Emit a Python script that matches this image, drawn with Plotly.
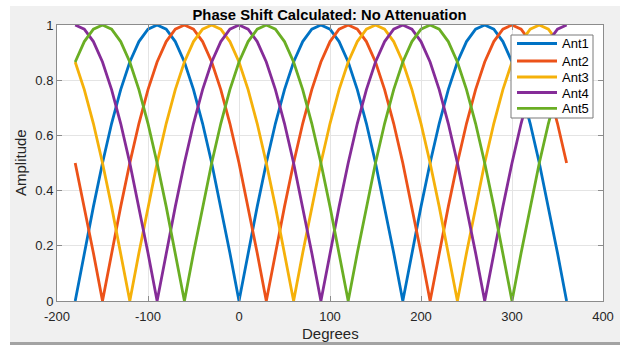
import plotly.graph_objects as go

degrees = list(range(-180, 361, 10))

ant1 = [0, .174, .342, .5, .643, .766, .866, .94, .985, 1, .985, .94, .866, .766, .643, .5, .342, .174,
        0, .174, .342, .5, .643, .766, .866, .94, .985, 1, .985, .94, .866, .766, .643, .5, .342, .174,
        0, .174, .342, .5, .643, .766, .866, .94, .985, 1, .985, .94, .866, .766, .643, .5, .342, .174,
        0]
ant2 = [.5, .342, .174, 0, .174, .342, .5, .643, .766, .866, .94, .985, 1, .985, .94, .866, .766, .643,
        .5, .342, .174, 0, .174, .342, .5, .643, .766, .866, .94, .985, 1, .985, .94, .866, .766, .643,
        .5, .342, .174, 0, .174, .342, .5, .643, .766, .866, .94, .985, 1, .985, .94, .866, .766, .643,
        .5]
ant3 = [.866, .766, .643, .5, .342, .174, 0, .174, .342, .5, .643, .766, .866, .94, .985, 1, .985, .94,
        .866, .766, .643, .5, .342, .174, 0, .174, .342, .5, .643, .766, .866, .94, .985, 1, .985, .94,
        .866, .766, .643, .5, .342, .174, 0, .174, .342, .5, .643, .766, .866, .94, .985, 1, .985, .94,
        .866]
ant4 = [1, .985, .94, .866, .766, .643, .5, .342, .174, 0, .174, .342, .5, .643, .766, .866, .94, .985,
        1, .985, .94, .866, .766, .643, .5, .342, .174, 0, .174, .342, .5, .643, .766, .866, .94, .985,
        1, .985, .94, .866, .766, .643, .5, .342, .174, 0, .174, .342, .5, .643, .766, .866, .94, .985,
        1]
ant5 = [.866, .94, .985, 1, .985, .94, .866, .766, .643, .5, .342, .174, 0, .174, .342, .5, .643, .766,
        .866, .94, .985, 1, .985, .94, .866, .766, .643, .5, .342, .174, 0, .174, .342, .5, .643, .766,
        .866, .94, .985, 1, .985, .94, .866, .766, .643, .5, .342, .174, 0, .174, .342, .5, .643, .766,
        .866]

names = ["Ant1", "Ant2", "Ant3", "Ant4", "Ant5"]
series = [ant1, ant2, ant3, ant4, ant5]
colors = ["#0072c4", "#ec5219", "#f5b10a", "#852c98", "#6aae24"]

x_ticks = [-200, -100, 0, 100, 200, 300, 400]
x_labels = ["-200", "-100", "0", "100", "200", "300", "400"]
y_ticks = [0, 0.2, 0.4, 0.6, 0.8, 1]
y_labels = ["0", "0.2", "0.4", "0.6", "0.8", "1"]

W, H = 620, 345
L, R, T, B = 57, 17, 25, 44
pw, ph = W - L - R, H - T - B


def px_x(p):
    return (p - L) / pw


def px_y(p):
    return (H - B - p) / ph


font = "Liberation Sans, Arial, sans-serif"
LW = 2.8

fig = go.Figure()
for n, s, c in zip(names, series, colors):
    fig.add_trace(go.Scatter(x=degrees, y=s, mode="lines", name=n, showlegend=False,
                             line=dict(color=c, width=LW)))

axis_common = dict(showline=True, linecolor="#8c8c8c", linewidth=1, mirror="ticks",
                   ticks="inside", ticklen=5, tickcolor="#8c8c8c", automargin=False,
                   showgrid=True, gridcolor="#e4e4e4", gridwidth=1, zeroline=False,
                   tickfont=dict(family=font, size=13, color="#262626"))

shapes = [
    # window frame: white strips left/top, darker bottom edge
    dict(type="rect", xref="paper", yref="paper", x0=px_x(0), x1=px_x(10), y0=px_y(H), y1=px_y(0),
         fillcolor="white", line=dict(width=0), layer="below"),
    dict(type="rect", xref="paper", yref="paper", x0=px_x(0), x1=px_x(W), y0=px_y(6), y1=px_y(0),
         fillcolor="white", line=dict(width=0), layer="below"),
    dict(type="rect", xref="paper", yref="paper", x0=px_x(10), x1=px_x(W), y0=px_y(H), y1=px_y(342),
         fillcolor="#a3a3a3", line=dict(width=0), layer="below"),
    # legend box
    dict(type="rect", xref="paper", yref="paper", x0=px_x(511), x1=px_x(593), y0=px_y(118), y1=px_y(35),
         fillcolor="white", line=dict(color="#7a7a7a", width=1), layer="above"),
]

annotations = [
    dict(text="Degrees", xref="paper", yref="paper", x=px_x(330), y=px_y(333), showarrow=False,
         xanchor="center", yanchor="middle", font=dict(family=font, size=15, color="#262626")),
    dict(text="Amplitude", xref="paper", yref="paper", x=px_x(20), y=px_y(163), showarrow=False,
         textangle=-90, xanchor="center", yanchor="middle", font=dict(family=font, size=15, color="#262626")),
]

row_y = [43.5, 61, 77, 92.5, 108.3]
for n, c, ry in zip(names, colors, row_y):
    shapes.append(dict(type="line", xref="paper", yref="paper", x0=px_x(517), x1=px_x(557),
                       y0=px_y(ry), y1=px_y(ry), line=dict(color=c, width=LW), layer="above"))
    annotations.append(dict(text=n, xref="paper", yref="paper", x=px_x(560), y=px_y(ry + 0.5),
                            showarrow=False, xanchor="left", yanchor="middle",
                            font=dict(family=font, size=13, color="black")))

fig.update_layout(
    width=W, height=H,
    margin=dict(l=L, r=R, t=T, b=B),
    paper_bgcolor="#f0f0f0", plot_bgcolor="white",
    title=dict(text="<b>Phase Shift Calculated: No Attenuation</b>", x=329.5 / W, xanchor="center",
               xref="container", y=1 - 15 / H, yref="container", yanchor="middle",
               font=dict(family=font, size=14.8, color="black")),
    xaxis=dict(range=[-200, 400], tickvals=x_ticks, ticktext=x_labels, ticklabelstandoff=3,
               **axis_common),
    yaxis=dict(range=[0, 1], tickvals=y_ticks, ticktext=y_labels, **axis_common),
    showlegend=False,
    shapes=shapes,
    annotations=annotations,
)
fig.write_html("out.html", config={"displayModeBar": False},
               post_script="document.body.style.margin='0';")
